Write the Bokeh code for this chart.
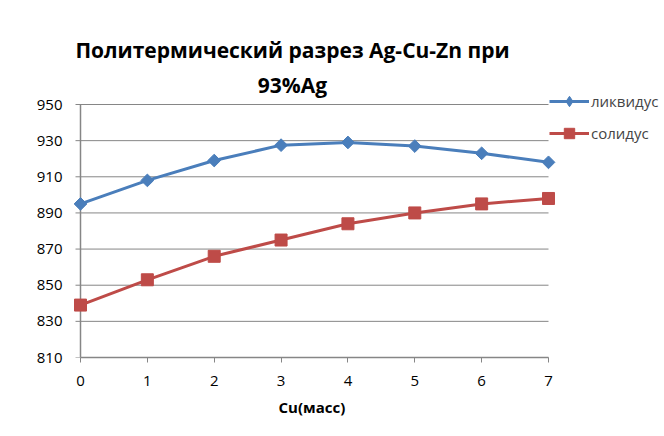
import math
from bokeh.plotting import figure
from bokeh.models import (Range1d, Legend, LegendItem, LinearAxis, FixedTicker, Title, Label)
from bokeh.embed import file_html
from bokeh.resources import INLINE

cu = [0, 1, 2, 3, 4, 5, 6, 7]
liquidus = [895, 908, 919, 927.5, 929, 927, 923, 918]
solidus = [839, 853, 866, 875, 884, 890, 895, 898]
y_ticks = [810, 830, 850, 870, 890, 910, 930, 950]
title_lines = ["Политермический разрез Ag-Cu-Zn при", "93%Ag"]
x_label = "Cu(масс)"
names = ["ликвидус", "солидус"]

BLUE = "#4A7EBB"
RED = "#BE4B48"
GRID = "#868686"
FONT = "Open Sans"

# ---- layout in pixels (page coordinates) ----
X0_PX, X7_PX = 80, 548        # pixel position of x = 0 and x = 7
Y_TOP_PX, Y_BOT_PX = 104, 357  # pixel position of y = 950 and y = 810
FRAME_L, FRAME_R, FRAME_T = 66, 662, 30
px_x = (X7_PX - X0_PX) / (cu[-1] - cu[0])
px_y = (Y_BOT_PX - Y_TOP_PX) / (y_ticks[-1] - y_ticks[0])


def xd(px):
    return cu[0] + (px - X0_PX) / px_x


def yd(py):
    return y_ticks[0] + (Y_BOT_PX - py) / px_y


p = figure(frame_width=FRAME_R - FRAME_L, frame_height=Y_BOT_PX - FRAME_T,
           output_backend="svg", toolbar_location=None,
           x_range=Range1d(xd(FRAME_L), xd(FRAME_R)),
           y_range=Range1d(y_ticks[0], yd(FRAME_T)),
           x_axis_location=None, y_axis_location=None,
           min_border_left=FRAME_L, min_border_right=0, min_border_top=FRAME_T,
           min_border_bottom=0)
p.title.visible = False
p.outline_line_color = None
p.xgrid.visible = False
p.ygrid.visible = False
p.background_fill_color = None
p.border_fill_color = "white"

# horizontal gridlines (with 5px tick stubs on the left) and the vertical axis line
p.segment(x0=[xd(X0_PX - 5)] * len(y_ticks), x1=[cu[-1]] * len(y_ticks),
          y0=y_ticks, y1=y_ticks, line_color=GRID, line_width=1)
p.segment(x0=[cu[0]], x1=[cu[0]], y0=[y_ticks[0]], y1=[y_ticks[-1]],
          line_color=GRID, line_width=1.5)

xaxis = LinearAxis(ticker=FixedTicker(ticks=cu), bounds=(cu[0], cu[-1]))
yaxis = LinearAxis(ticker=FixedTicker(ticks=y_ticks))
for ax in (xaxis, yaxis):
    ax.axis_line_color = GRID
    ax.axis_line_width = 1.5
    ax.major_tick_line_color = GRID
    ax.major_tick_in = 0
    ax.major_tick_out = 5
    ax.minor_tick_line_color = None
    ax.major_label_text_font = FONT
    ax.major_label_text_font_size = "15px"
    ax.major_label_text_color = "#000000"
yaxis.axis_line_color = None
yaxis.major_tick_out = 0
yaxis.major_label_standoff = 4
xaxis.major_label_standoff = 13
p.add_layout(xaxis, "below")
p.add_layout(yaxis, "left")

xt = Title(text=x_label, align="left", offset=278 - FRAME_L, standoff=12,
           text_font=FONT, text_font_style="bold", text_font_size="15px", text_color="#000000")
p.add_layout(xt, "below")

l1 = p.line(cu, liquidus, line_color=BLUE, line_width=3)
# diamond glyph used for the legend entry; fully covered by the rotated squares below
s1_leg = p.scatter(cu, liquidus, marker="diamond", size=8, fill_color=BLUE, line_color=BLUE)
s1 = p.scatter(cu, liquidus, marker="square", angle=math.pi / 4, size=9,
               fill_color=BLUE, line_color=BLUE)
l2 = p.line(cu, solidus, line_color=RED, line_width=3)
s2 = p.scatter(cu, solidus, marker="square", size=12, fill_color=RED, line_color=RED)

legend = Legend(items=[LegendItem(label=names[0], renderers=[l1, s1_leg]),
                       LegendItem(label=names[1], renderers=[l2, s2])],
                location=(549 - FRAME_L, Y_BOT_PX - 146), orientation="vertical",
                glyph_width=40, glyph_height=26, spacing=6, padding=0, margin=0,
                label_standoff=2, label_text_font=FONT, label_text_font_size="15px",
                border_line_color=None, background_fill_alpha=0)
p.add_layout(legend, "center")

for txt, cy in zip(title_lines, [49, 84]):
    p.add_layout(Label(x=xd(292), y=yd(cy), text=txt, text_align="center",
                       text_baseline="middle", text_font=FONT, text_font_style="bold",
                       text_font_size="21px", text_color="#000000"))

open("out.html", "w").write(file_html(p, INLINE))
